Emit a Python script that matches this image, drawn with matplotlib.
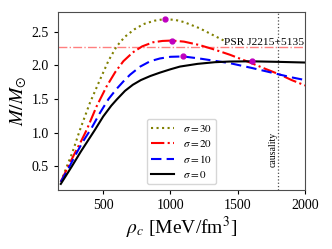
import matplotlib
matplotlib.use("Agg")
import matplotlib.pyplot as plt

plt.rcParams['font.family'] = ['Liberation Serif', 'DejaVu Serif']
plt.rcParams['mathtext.fontset'] = 'stix'

# sigma = 30 (olive, dotted)
rho_30 = [185, 230, 270, 327, 401, 475, 540, 600, 660, 730, 800, 880, 959, 1040, 1100, 1214, 1313, 1412]
m_30 = [0.27, 0.50, 0.70, 1.04, 1.44, 1.78, 2.07, 2.28, 2.42, 2.53, 2.61, 2.66, 2.685, 2.67, 2.64, 2.55, 2.45, 2.35]

# sigma = 20 (red, dash-dot)
rho_20 = [185, 240, 290, 340, 377, 451, 525, 590, 650, 720, 790, 870, 940, 1009, 1100, 1214, 1330, 1442, 1603, 1700, 1814, 1900, 2000]
m_20 = [0.27, 0.50, 0.70, 0.89, 1.04, 1.39, 1.685, 1.90, 2.06, 2.19, 2.28, 2.34, 2.36, 2.366, 2.35, 2.30, 2.23, 2.155, 2.03, 1.95, 1.86, 1.78, 1.70]

# sigma = 10 (blue, dashed)
rho_10 = [185, 250, 300, 350, 414, 475, 540, 600, 650, 700, 775, 850, 921, 1000, 1095, 1214, 1330, 1442, 1603, 1710, 1814, 1900, 2000]
m_10 = [0.27, 0.50, 0.69, 0.87, 1.07, 1.29, 1.50, 1.65, 1.76, 1.86, 1.98, 2.06, 2.10, 2.125, 2.13, 2.10, 2.065, 2.03, 1.96, 1.91, 1.86, 1.82, 1.78]

# sigma = 0 (black, solid)
rho_0 = [185, 267, 334, 438, 500, 560, 600, 662, 720, 780, 850, 921, 1000, 1070, 1200, 1330, 1442, 1603, 1800, 2000]
m_0 = [0.24, 0.50, 0.72, 1.04, 1.24, 1.40, 1.49, 1.62, 1.71, 1.78, 1.84, 1.89, 1.94, 1.98, 2.02, 2.045, 2.055, 2.058, 2.05, 2.04]

# maximum-mass markers
peak_rho = [959, 1009, 1095, 1603]
peak_m = [2.685, 2.366, 2.13, 2.058]

psr_mass = 2.27
causality_rho = 1800

fig = plt.figure(figsize=(3.32, 2.49), dpi=100)
ax = fig.add_axes([0.175, 0.237, 0.744, 0.715])

ax.axhline(psr_mass, color='r', alpha=0.5, ls='-.', lw=1.0)
ax.axvline(causality_rho, color='0.3', ls=':', lw=0.9)

ax.plot(rho_30, m_30, ls=':', color='olive', lw=1.5, label=r'$\sigma=30$')
ax.plot(rho_20, m_20, ls='-.', color='r', lw=1.5, label=r'$\sigma=20$')
ax.plot(rho_10, m_10, ls=(0, (5, 2.5)), color='b', lw=1.5, label=r'$\sigma=10$')
ax.plot(rho_0, m_0, ls='-', color='k', lw=1.5, label=r'$\sigma=0$')
ax.plot(peak_rho, peak_m, 'o', color='m', ms=3.5, ls='none')

ax.text(1995, 2.305, 'PSR J2215+5135', ha='right', va='baseline', fontsize=8.2)
ax.text(1760, 0.75, 'causality', rotation=90, ha='center', va='center', fontsize=7)

ax.set_xlim(165, 2000)
ax.set_ylim(0.15, 2.79)
ax.set_xticks([500, 1000, 1500, 2000])
ax.set_yticks([0.5, 1.0, 1.5, 2.0, 2.5])
ax.tick_params(labelsize=10, length=3)
for s in ax.spines.values():
    s.set_color('0.3')

ax.set_xlabel(r'$\rho_c$ [MeV/fm$^3$]', fontsize=14, labelpad=2)
ax.set_ylabel(r'$M/M_{\odot}$', fontsize=14, labelpad=2)

ax.legend(loc='lower center', fontsize=8, handlelength=2.0, labelspacing=0.35,
          borderpad=0.4)

fig.savefig('out.png', dpi=100)
